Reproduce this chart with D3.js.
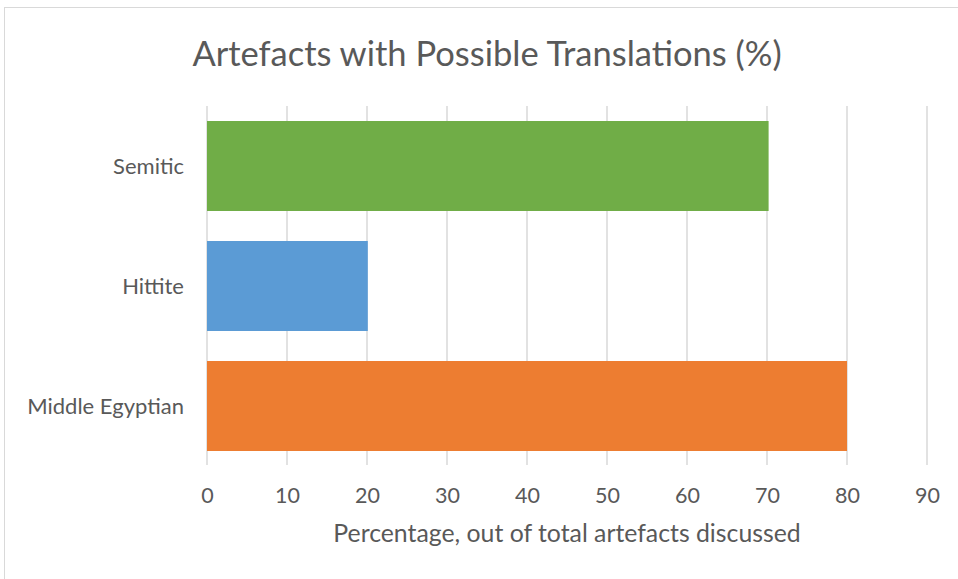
<!DOCTYPE html>
<html><head><meta charset="utf-8">
<script src="https://cdn.jsdelivr.net/npm/d3@7"></script>
<style>body{margin:0;background:#fff;} text{font-family:Lato,"Open Sans",sans-serif;fill:#595959;}</style>
</head><body>
<svg id="c" width="958" height="579"></svg>
<script>
const categories = ["Semitic", "Hittite", "Middle Egyptian"];
const values = [70.2, 20.1, 80];
const colors = ["#70AD47", "#5B9BD5", "#ED7D31"];
const xTicks = [0, 10, 20, 30, 40, 50, 60, 70, 80, 90];
const title = "Artefacts with Possible Translations (%)";
const xTitle = "Percentage, out of total artefacts discussed";

const svg = d3.select("#c");
svg.append("rect").attr("x", 4.5).attr("y", 7.5).attr("width", 1000).attr("height", 700)
  .attr("fill", "#fff").attr("stroke", "#d9d9d9").attr("stroke-width", 1);

const x = d3.scaleLinear().domain([0, 90]).range([207, 927]);
const y = d3.scaleBand().domain(categories).range([106, 466]).paddingInner(0.25).paddingOuter(0.125);

// gridlines
svg.append("g").selectAll("line").data(xTicks).join("line")
  .attr("x1", d => x(d)).attr("x2", d => x(d)).attr("y1", 106).attr("y2", 465)
  .attr("stroke", "#d9d9d9").attr("stroke-width", 1.5);

svg.append("g").selectAll("rect").data(categories).join("rect")
  .attr("x", x(0)).attr("y", d => y(d)).attr("height", y.bandwidth())
  .attr("width", (d, i) => x(values[i]) - x(0)).attr("fill", (d, i) => colors[i]);

// x axis labels
const xa = svg.append("g").attr("transform", "translate(0,465)")
  .call(d3.axisBottom(x).tickValues(xTicks).tickSize(0).tickPadding(0).tickFormat(d3.format("d")));
xa.select(".domain").remove();
xa.selectAll("text").attr("y", 38).attr("dy", 0).attr("font-size", 21.5).style("font-family", "Lato,'Open Sans',sans-serif").attr("fill", "#595959");

// y axis labels
const ya = svg.append("g").attr("transform", "translate(184,0)")
  .call(d3.axisLeft(y).tickSize(0).tickPadding(0));
ya.select(".domain").remove();
ya.selectAll("text").attr("font-size", 22).attr("dy", "0.35em").style("font-family", "Lato,'Open Sans',sans-serif").attr("fill", "#595959");

svg.append("text").attr("x", 487).attr("y", 66).attr("text-anchor", "middle")
  .attr("font-size", 34.5).text(title);
svg.append("text").attr("x", 567).attr("y", 542).attr("text-anchor", "middle")
  .attr("font-size", 24.8).text(xTitle);
</script>
</body></html>
